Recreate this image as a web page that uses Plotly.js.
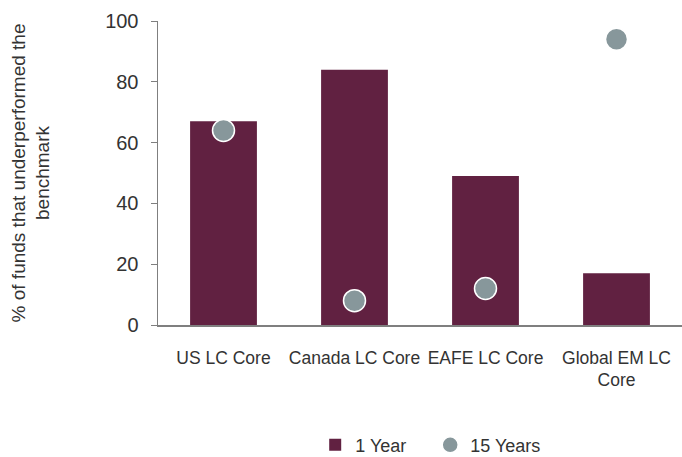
<!DOCTYPE html>
<html><head><meta charset="utf-8">
<script src="https://cdn.plot.ly/plotly-3.0.1.min.js"></script>
<style>html,body{margin:0;padding:0;background:#fff}</style>
</head><body><div id="chart" style="width:682px;height:457px"></div>
<script>
const categories = ["US LC Core", "Canada LC Core", "EAFE LC Core", "Global EM LC<br>Core"];
const oneYear = [67, 84, 49, 17];
const fifteenYears = [64, 8, 12, 94];
const yTicks = [0, 20, 40, 60, 80, 100];

const font = "Liberation Sans, Arial, sans-serif";
const data = [
  {type: "bar", name: "1 Year", x: categories, y: oneYear,
   marker: {color: "#612141"}},
  {type: "scatter", mode: "markers", name: "15 Years", x: categories, y: fifteenYears,
   marker: {color: "#87979b", size: 22, line: {color: "#ffffff", width: 1.5}}}
];
const layout = {
  width: 682, height: 457,
  margin: {l: 158, r: 0, t: 21, b: 132},
  paper_bgcolor: "#fff", plot_bgcolor: "#fff",
  font: {family: font, size: 18, color: "#333333"},
  bargap: 0.49,
  showlegend: true,
  legend: {orientation: "h", x: 0.3, xanchor: "left", yref: "container", y: 0.026, yanchor: "middle",
           font: {size: 18}, tracegroupgap: 0, entrywidth: 70, entrywidthmode: "pixels"},
  xaxis: {showline: true, linecolor: "#7f7f7f", linewidth: 1.5, ticks: "", showgrid: false,
          tickangle: 0, tickfont: {size: 17.5}, ticklabelstandoff: 16},
  yaxis: {range: [0, 100], tickvals: yTicks, showline: true, linecolor: "#7f7f7f", linewidth: 1.5,
          ticks: "outside", ticklen: 6, tickcolor: "#7f7f7f", showgrid: false, zeroline: false,
          tickfont: {size: 20}, ticklabelstandoff: 8,
          title: {text: "% of funds that underperformed the<br>benchmark", font: {size: 19}, standoff: 50}}
};
Plotly.newPlot("chart", data, layout, {displayModeBar: false, staticPlot: true});
</script></body></html>
